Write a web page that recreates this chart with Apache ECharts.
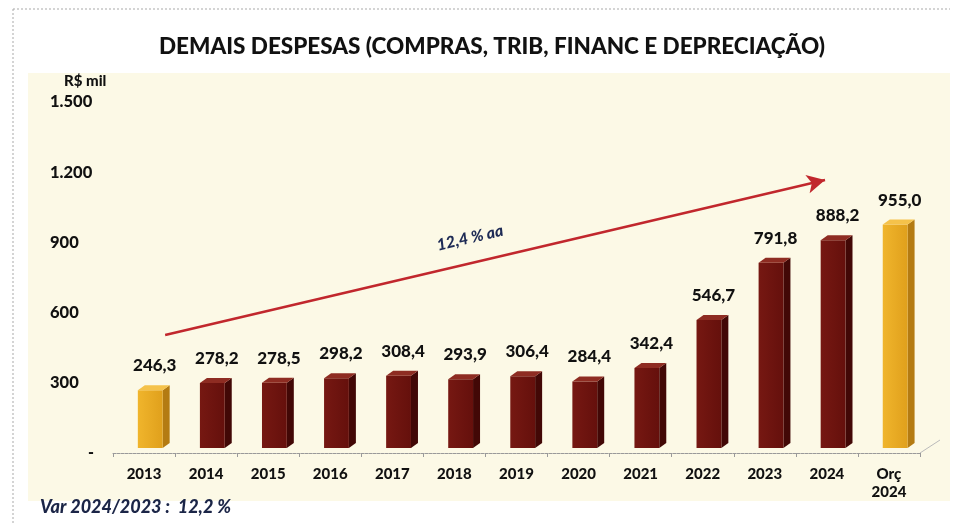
<!DOCTYPE html>
<html><head><meta charset="utf-8">
<script src="https://cdn.jsdelivr.net/npm/echarts@6/dist/echarts.min.js"></script>
<style>html,body{margin:0;padding:0;background:#fff}#c{width:953px;height:523px}</style>
</head><body><div id="c"></div>
<script>
const categories = ['2013','2014','2015','2016','2017','2018','2019','2020','2021','2022','2023','2024','Orç\n2024'];
const values = [246.3,278.2,278.5,298.2,308.4,293.9,306.4,284.4,342.4,546.7,791.8,888.2,955.0];
const yTicks = [0,300,600,900,1200,1500];
const yTickLabels = ['-','300','600','900','1.200','1.500'];
const trendStart = [0.34, 504];
const trendEnd = [10.97, 1167];
const trendText = '12,4 % aa';
const title = 'DEMAIS DESPESAS (COMPRAS, TRIB, FINANC E DEPRECIAÇÃO)';
const unitLabel = 'R$ mil';
const footnote = 'Var 2024/2023 :  12,2 %';

const FONT = 'Lato, "Open Sans", sans-serif';
const W = 900;
const chart = echarts.init(document.getElementById('c'), null, {renderer:'canvas'});

function fmt(v){ return v.toFixed(1).replace('.', ','); }

function renderItem(params, api){
  const idx = api.value(0), v = api.value(1);
  const top = api.coord([idx, v]);
  const base = api.coord([idx, 0]);
  const cw = api.size([1,0])[0];
  const w = cw*0.40, off = cw*0.10, dx = 7, dy = 5, lift = 5;
  const x0 = top[0] + off - w/2, x1 = x0 + w;
  const yt = top[1] - lift, yb = base[1] - lift;
  const gold = (idx === 0 || idx === categories.length-1);
  const front = gold ? new echarts.graphic.LinearGradient(0,0,1,0,[{offset:0,color:'#F0B52C'},{offset:1,color:'#E0A01C'}])
                     : new echarts.graphic.LinearGradient(0,0,1,0,[{offset:0,color:'#761812'},{offset:1,color:'#65100C'}]);
  const side = gold ? '#B47B12' : '#420806';
  const topc = gold ? '#F5C24A' : '#8E2C22';
  return {type:'group', children:[
    {type:'polygon', shape:{points:[[x1,yt],[x1+dx,yt-dy],[x1+dx,yb-dy],[x1,yb]]}, style:{fill:side}},
    {type:'rect', shape:{x:x0,y:yt,width:w,height:yb-yt}, style:{fill:front}},
    {type:'polygon', shape:{points:[[x0,yt],[x0+dx,yt-dy],[x1+dx,yt-dy],[x1,yt]]}, style:{fill:topc}},
    {type:'text', x:(x0+x1+dx)/2+1, y:yt-dy-11, style:{text:fmt(v), fill:'#111', font:W+' 17px '+FONT, align:'center', verticalAlign:'bottom'}}
  ]};
}

const option = {
  animation:false,
  backgroundColor:'#ffffff',
  title:{text:title, left:487, top:30, textAlign:'center', textStyle:{fontFamily:FONT, fontWeight:W, fontSize:22.5, color:'#111'}},
  grid:{left:113, right:33, top:102, bottom:70},
  xAxis:[
    {type:'category', data:categories, axisLine:{lineStyle:{color:'#9a9a9a', width:1, type:[3,1]}},
     axisTick:{show:true, length:4, lineStyle:{color:'#9a9a9a'}},
     axisLabel:{color:'#111', fontFamily:FONT, fontWeight:W, fontSize:15, margin:12, lineHeight:18}},
    {type:'value', min:-0.5, max:categories.length-0.5, show:false}
  ],
  yAxis:{type:'value', min:0, max:1500, interval:300,
    axisLine:{show:false}, axisTick:{show:false}, splitLine:{show:false},
    axisLabel:{align:'left', margin:63, color:'#111', fontFamily:FONT, fontWeight:W, fontSize:16.5,
      formatter:function(v){ const i = yTicks.indexOf(v); return i===0 ? '{z|'+yTickLabels[0]+'}' : yTickLabels[i]; },
      rich:{z:{padding:[0,0,0,38], fontWeight:W, fontSize:16, color:'#111'}}}},
  series:[
    {type:'custom', xAxisIndex:0, renderItem:renderItem, data:values.map((v,i)=>[i,v]), z:3},
    {type:'line', xAxisIndex:1, data:[], symbol:'none',
     markLine:{silent:true, symbol:['none','arrow'], symbolSize:[14,18],
       lineStyle:{color:'#C1272D', width:2.5, type:'solid'}, label:{show:false},
       data:[[{coord:trendStart},{coord:trendEnd}]]}}
  ],
  graphic:[
    {type:'rect', z:-10, shape:{x:28,y:73,width:922,height:428}, style:{fill:'#FCF9E6'}},
    {type:'line', z:-5, shape:{x1:13,y1:9,x2:950,y2:9}, style:{stroke:'#aaa', lineWidth:1, lineDash:[2,2]}},
    {type:'line', z:-5, shape:{x1:13,y1:9,x2:13,y2:523}, style:{stroke:'#aaa', lineWidth:1, lineDash:[2,2]}},
    {type:'line', z:-5, shape:{x1:920,y1:453,x2:940,y2:440}, style:{stroke:'#bbb', lineWidth:1}},
    {type:'text', x:64, y:74, style:{text:unitLabel, fill:'#111', font:W+' 15px '+FONT}},
    {type:'text', x:470, y:238, rotation:13.2*Math.PI/180, style:{text:trendText, fill:'#1E2B55', font:'italic '+W+' 16px '+FONT, align:'center', verticalAlign:'middle'}},
    {type:'text', x:40, y:498, style:{text:footnote, fill:'#1B2547', font:'italic '+W+' 18px '+FONT}}
  ]
};
chart.setOption(option);
</script></body></html>
